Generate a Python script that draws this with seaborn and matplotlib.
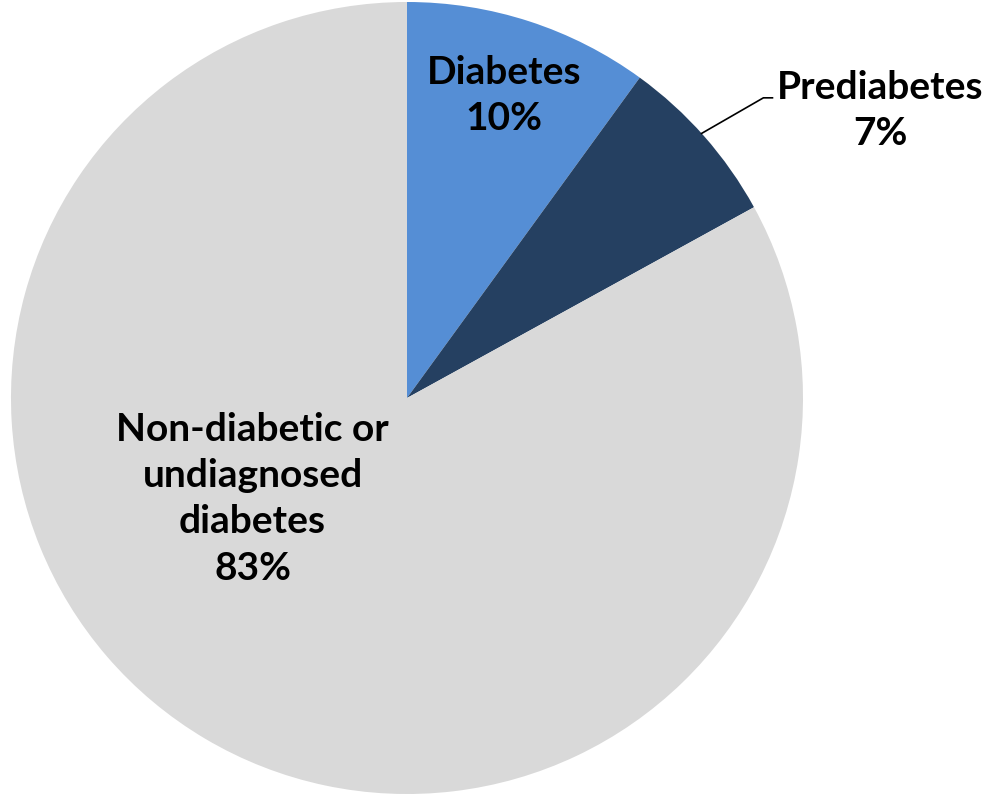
import matplotlib
matplotlib.use('Agg')
import matplotlib.pyplot as plt
import seaborn as sns

# Chart data
categories = ['Diabetes', 'Prediabetes', 'Non-diabetic or\nundiagnosed\ndiabetes']
shares = [10, 7, 83]
colors = ['#558ED5', '#254061', '#D9D9D9']

sns.set_theme(style='white')
plt.rcParams['font.family'] = ['Lato', 'DejaVu Sans']

fig = plt.figure(figsize=(9.9, 7.98), dpi=100)
# place the pie so it fills the left part of the canvas
ax = fig.add_axes([0.0101, 0.0050, 0.802, 0.9925])

ax.pie(shares, colors=colors, startangle=90, counterclock=False,
       radius=1.0, wedgeprops=dict(linewidth=0))
ax.set_xlim(-1, 1)
ax.set_ylim(-1, 1)
ax.set_aspect('equal')
ax.axis('off')

label_style = dict(ha='center', va='center', fontsize=28, fontweight='bold',
                   color='black', linespacing=1.38)

# label positions in data units (pie radius = 1)
label_pos = [(0.245, 0.765), (1.195, 0.725), (-0.39, -0.255)]
for name, val, (x, y) in zip(categories, shares, label_pos):
    ax.text(x, y, f'{name}\n{val}%', **label_style)

# leader line for the prediabetes label
ax.plot([0.742, 0.90, 0.925], [0.667, 0.758, 0.758], color='black', lw=1.2,
        solid_capstyle='butt', clip_on=False)

fig.savefig('out.png', dpi=100)
